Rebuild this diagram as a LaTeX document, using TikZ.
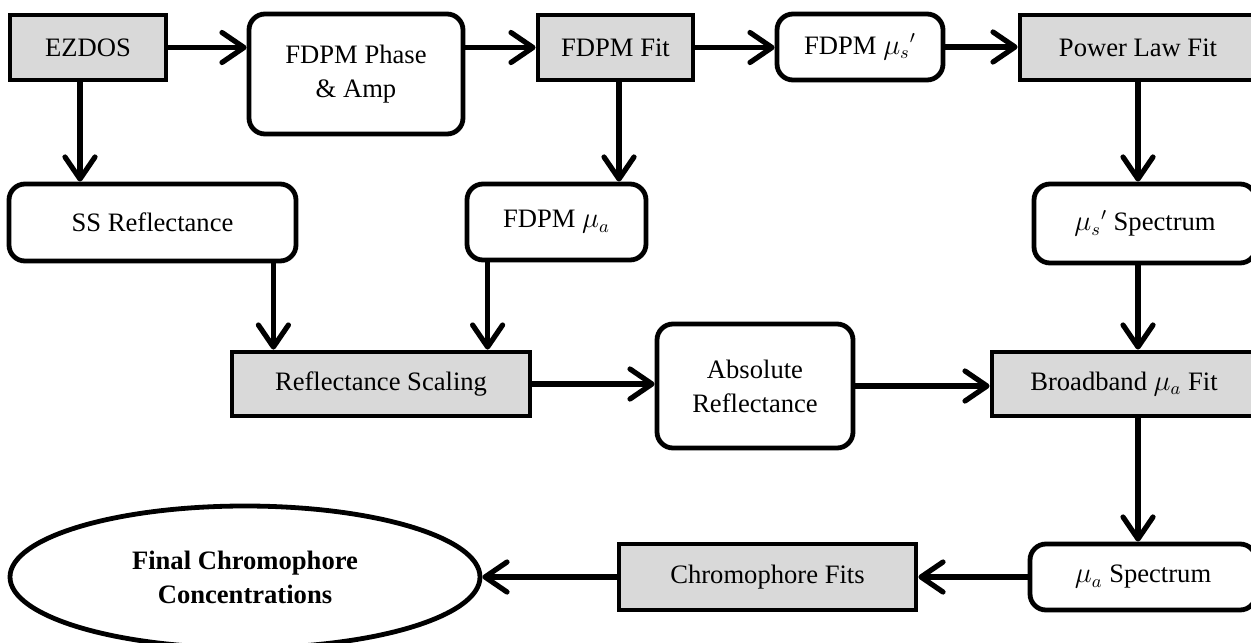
\documentclass[tikz,border=0pt]{standalone}
\usepackage{fontspec}
\setmainfont{Liberation Serif}
\usetikzlibrary{shapes.geometric,arrows.meta}
\definecolor{boxgray}{RGB}{217,217,217}
\begin{document}
\begin{tikzpicture}[x=0.5pt,y=-0.5pt,
every node/.style={font=\fontsize{13.3}{17}\selectfont,line width=2.4pt,inner sep=0pt,align=center},
fitbox/.style={rectangle,draw,fill=boxgray},
databox/.style={rectangle,draw,rounded corners=8pt,fill=white},
flow/.style={line width=2.6pt,-{Straight Barb[length=11pt,width=15pt,round]}}]
\useasboundingbox (0,0) rectangle (1251,642);
\node[fitbox,minimum width=78pt,minimum height=32.5pt] (n1) at (88,47.5) {EZDOS};
\node[databox,minimum width=107pt,minimum height=60pt] (n2) at (356,74) {FDPM Phase\\\& Amp};
\node[fitbox,minimum width=77.5pt,minimum height=32.5pt] (n3) at (615.5,47.5) {FDPM Fit};
\node[databox,minimum width=83pt,minimum height=33pt] (n4) at (860,47) {FDPM ${\mu_s}'$};
\node[fitbox,minimum width=118pt,minimum height=32.5pt] (n5) at (1138,47.5) {Power Law Fit};
\node[databox,minimum width=143.5pt,minimum height=38.5pt] (n6) at (152.5,222.5) {SS Reflectance};
\node[databox,minimum width=89.5pt,minimum height=38pt] (n7) at (556.5,222) {FDPM $\mu_a$};
\node[databox,minimum width=111pt,minimum height=39.5pt] (n8) at (1145,223.5) {${\mu_s}'$ Spectrum};
\node[fitbox,minimum width=149pt,minimum height=32pt] (n9) at (381,384) {Reflectance Scaling};
\node[databox,minimum width=98pt,minimum height=62pt] (n10) at (755,386) {Absolute\\Reflectance};
\node[fitbox,minimum width=132pt,minimum height=32pt] (n11) at (1124,384) {Broadband $\mu_a$ Fit};
\node[databox,minimum width=113pt,minimum height=33pt] (n12) at (1143,577) {$\mu_a$ Spectrum};
\node[fitbox,minimum width=148.5pt,minimum height=33pt] (n13) at (767.5,577) {Chromophore Fits};
\node[ellipse,draw,font=\fontsize{13.3}{17}\selectfont\bfseries,minimum width=235pt,minimum height=71pt] (n14) at (245,577) {Final Chromophore\\Concentrations};
\draw[flow] (n1.east) -- (n1.east -| n2.west);
\draw[flow] (n3.west -| n2.east) -- (n3.west);
\draw[flow] (n3.east) -- (n3.east -| n4.west);
\draw[flow] (n4.east) -- (n4.east -| n5.west);
\draw[flow] ([xshift=-4pt]n1.south) -- ([xshift=-4pt]n1.south |- n6.north);
\draw[flow] ([xshift=1.75pt]n3.south) -- ([xshift=1.75pt]n3.south |- n7.north);
\draw[flow] (n5.south) -- (n5.south |- n8.north);
\draw[flow] ([xshift=-12.5pt]n6.south east) -- ([xshift=-12.5pt]n6.south east |- n9.north);
\draw[flow] ([xshift=11.5pt]n7.south west) -- ([xshift=11.5pt]n7.south west |- n9.north);
\draw[flow] (n8.south -| n5.south) -- (n11.north -| n5.south);
\draw[flow] (n9.east) -- (n9.east -| n10.west);
\draw[flow] (n10.east) -- (n10.east -| n11.west);
\draw[flow] (n11.south -| n5.south) -- (n12.north -| n5.south);
\draw[flow] (n12.west) -- (n13.east);
\draw[flow] (n13.west) -- (n14.east);
\end{tikzpicture}
\end{document}
